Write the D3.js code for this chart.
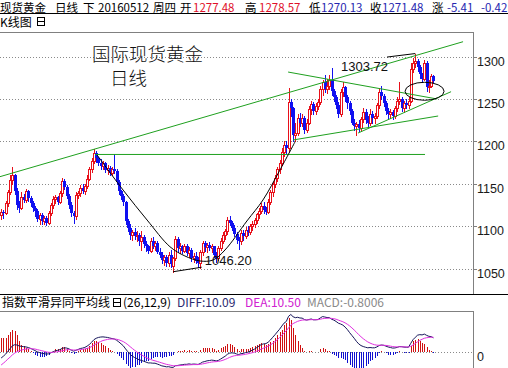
<!DOCTYPE html>
<html><head><meta charset="utf-8">
<script src="https://cdn.jsdelivr.net/npm/d3@7"></script>
<style>
body{margin:0;background:#fff;overflow:hidden}
svg{display:block}
text{font-family:"Liberation Sans",Arial,"Noto Sans CJK SC",sans-serif}
.cjk{font-family:"Noto Sans CJK SC","Liberation Sans",sans-serif}
</style>
</head><body><svg id="c" width="508" height="368"></svg>
<script>
// ---------- data ----------
const opens=[1113,1117,1116,1127,1140,1154,1160,1142,1125,1122,1134,1131,1141,1133,1127,1121,1118,1109,1113,1106,
1110,1104,1116,1125,1132,1134,1129,1139,1153,1146,1136,1125,1115,1112,1137,1139,1145,1142,1147,1156,
1167,1177,1186,1180,1175,1171,1174,1166,1169,1163,1167,1165,1152,1141,1136,1128,1106,1098,1089,1093,
1088,1090,1082,1087,1079,1076,1071,1083,1077,1080,1070,1066,1060,1063,1057,1066,1053,1062,1085,1074,
1076,1071,1077,1068,1072,1062,1065,1059,1056,1069,1080,1075,1078,1074,1076,1066,1062,1074,1083,1090,
1094,1107,1104,1098,1091,1084,1082,1092,1088,1096,1093,1100,1103,1107,1114,1118,1124,1119,1117,1129,
1140,1150,1157,1167,1175,1188,1196,1192,1247,1239,1208,1210,1228,1222,1228,1214,1222,1238,1244,1236,
1242,1247,1262,1270,1262,1266,1273,1259,1252,1243,1232,1258,1264,1252,1245,1236,1222,1218,1220,1216,
1226,1235,1225,1222,1232,1228,1230,1243,1258,1254,1245,1236,1232,1235,1230,1240,1248,1250,1240,1245,
1243,1248,1286,1293,1295,1288,1279,1274,1293,1264,1266,1277.48];
const highs=[1120,1119,1130,1143,1160,1170,1162,1145,1130,1140,1138,1144,1143,1136,1130,1124,1120,1115,1116,1112,
1112,1118,1127,1135,1137,1136,1141,1157,1156,1148,1138,1128,1118,1140,1142,1148,1150,1150,1160,1170,
1180,1191,1189,1182,1179,1177,1176,1172,1171,1170,1185,1167,1154,1143,1138,1130,1109,1102,1096,1098,
1094,1092,1094,1089,1083,1078,1086,1087,1083,1082,1074,1070,1066,1066,1070,1072,1064,1088,1087,1080,
1078,1079,1079,1075,1074,1068,1070,1063,1072,1083,1082,1080,1081,1079,1077,1070,1076,1086,1093,1097,
1111,1112,1106,1101,1093,1087,1095,1096,1099,1100,1103,1106,1110,1116,1121,1127,1128,1123,1132,1143,
1152,1160,1170,1178,1192,1200,1200,1263,1250,1241,1222,1232,1233,1232,1230,1226,1242,1248,1247,1245,
1250,1265,1272,1278,1274,1278,1287,1262,1255,1246,1262,1270,1266,1255,1248,1238,1226,1223,1225,1229,
1240,1238,1230,1238,1236,1233,1245,1263,1265,1256,1248,1240,1238,1237,1242,1252,1270,1252,1248,1250,
1252,1292,1298,1303.72,1297,1290,1281,1296,1295,1272,1280,1278.57];
const lows=[1108,1110,1114,1124,1138,1150,1138,1120,1117,1120,1128,1129,1130,1124,1118,1112,1106,1103,1103,1102,
1101,1102,1113,1122,1127,1126,1127,1136,1144,1133,1122,1112,1104,1108,1133,1136,1139,1138,1145,1154,
1164,1174,1176,1172,1168,1167,1164,1162,1160,1160,1163,1150,1138,1132,1125,1103,1094,1085,1084,1085,
1082,1078,1072,1075,1071,1068,1069,1074,1072,1068,1063,1056,1054,1053,1053,1052,1046.2,1060,1070,1068,
1068,1069,1066,1063,1059,1058,1056,1052,1051,1066,1071,1070,1072,1070,1064,1058,1060,1072,1080,1085,
1091,1101,1095,1088,1080,1073,1079,1084,1086,1089,1091,1096,1099,1104,1110,1115,1116,1114,1115,1126,
1136,1146,1153,1163,1172,1183,1186,1188,1230,1200,1200,1207,1218,1218,1210,1211,1220,1232,1232,1232,
1238,1244,1255,1258,1257,1262,1255,1248,1240,1229,1230,1254,1248,1240,1232,1220,1214,1208,1212,1212,
1223,1222,1218,1219,1222,1222,1228,1240,1250,1242,1232,1228,1228,1226,1228,1236,1244,1236,1235,1240,
1240,1246,1282,1288,1283,1275,1270,1272,1260,1258,1264,1270.13];
const closes=[1117,1116,1127,1140,1154,1160,1142,1125,1122,1134,1131,1141,1133,1127,1121,1118,1109,1113,1106,1110,
1104,1116,1125,1132,1134,1129,1139,1153,1146,1136,1125,1115,1112,1137,1139,1145,1142,1147,1156,1167,
1177,1186,1180,1175,1171,1174,1166,1169,1163,1167,1165,1152,1141,1136,1128,1106,1098,1089,1093,1088,
1090,1082,1087,1079,1076,1071,1083,1077,1080,1070,1066,1060,1063,1057,1066,1055,1062,1085,1074,1076,
1071,1077,1068,1072,1062,1065,1059,1056,1069,1080,1075,1078,1074,1076,1066,1062,1074,1083,1090,1094,
1107,1104,1098,1091,1084,1082,1092,1088,1096,1093,1100,1103,1107,1114,1118,1124,1119,1117,1129,1140,
1150,1157,1167,1175,1188,1196,1192,1247,1239,1208,1210,1228,1222,1228,1214,1222,1238,1244,1236,1242,
1247,1262,1270,1262,1266,1273,1259,1252,1243,1232,1258,1264,1252,1245,1236,1222,1218,1220,1216,1226,
1235,1225,1222,1232,1228,1230,1243,1258,1254,1245,1236,1232,1235,1230,1240,1248,1250,1240,1245,1243,
1248,1286,1293,1295,1288,1279,1274,1293,1264,1266,1277,1271.48];
const diffVals=[-4.3,-3.0,-1.5,0.5,2.5,4.5,5.2,5.0,4.3,4.0,3.8,3.6,3.2,2.6,1.8,1.0,0.1,-0.4,-0.9,-1.2,
-1.5,-1.3,-0.6,0.2,0.9,1.2,1.7,2.6,3.0,2.8,2.2,1.3,0.6,1.2,1.8,2.5,2.8,3.3,4.2,5.4,
7.0,8.8,9.8,10.4,10.7,10.8,10.6,10.4,10.0,9.6,9.3,8.4,7.2,5.8,4.4,2.2,0.2,-1.8,-3.0,-4.0,
-4.7,-5.6,-6.0,-6.6,-7.2,-7.8,-7.8,-8.0,-8.0,-8.6,-9.2,-9.9,-10.2,-10.6,-10.5,-10.9,-11.0,-9.8,-9.6,-9.3,
-9.1,-8.8,-8.8,-8.5,-8.8,-8.6,-8.7,-8.9,-8.2,-7.2,-6.8,-6.3,-6.1,-5.8,-6.0,-6.4,-6.0,-5.0,-4.0,-3.0,
-1.6,-0.8,-0.6,-0.8,-1.4,-1.8,-1.2,-1.0,-0.4,-0.2,0.6,1.3,2.1,3.2,4.3,5.4,5.8,6.0,7.0,8.6,
10.5,12.3,14.3,16.2,18.5,20.6,21.8,25.5,26.8,25.2,24.5,24.8,24.3,24.2,23.2,22.8,23.2,23.6,23.0,23.0,
23.2,24.3,25.3,25.0,24.6,24.6,23.4,22.8,21.8,20.6,20.0,19.2,17.8,16.0,13.8,11.8,9.8,7.6,5.8,4.6,
3.9,3.4,3.0,3.2,3.0,3.0,3.6,4.6,5.0,4.8,4.2,3.6,3.2,2.8,2.9,3.3,3.9,3.8,3.5,3.4,
3.4,6.2,8.8,10.5,12.0,12.4,12.2,12.8,11.9,11.2,11.0,10.09];
const deaVals=[-9.3,-8.0,-6.6,-5.0,-3.6,-2.0,-0.8,0.2,0.9,1.4,1.8,2.1,2.3,2.4,2.3,2.1,1.7,1.3,0.9,0.5,
0.1,-0.2,-0.3,-0.2,0.0,0.2,0.5,0.9,1.3,1.6,1.7,1.6,1.4,1.4,1.5,1.7,1.9,2.2,2.6,3.1,
3.9,4.9,5.9,6.8,7.5,8.2,8.6,9.0,9.2,9.3,9.3,9.1,8.7,8.1,7.4,6.4,5.2,3.8,2.5,1.2,
0.0,-1.1,-2.1,-3.0,-3.9,-4.7,-5.3,-5.9,-6.3,-6.8,-7.3,-7.8,-8.3,-8.8,-9.1,-9.5,-9.8,-9.8,-9.8,-9.7,
-9.6,-9.4,-9.3,-9.2,-9.1,-9.0,-9.0,-9.0,-8.8,-8.5,-8.2,-7.8,-7.5,-7.2,-7.0,-6.9,-6.7,-6.4,-5.9,-5.3,
-4.6,-3.8,-3.2,-2.7,-2.5,-2.3,-2.1,-1.9,-1.6,-1.3,-0.9,-0.5,0.0,0.6,1.3,2.1,2.8,3.5,4.2,5.1,
6.2,7.4,8.8,10.3,11.9,13.6,15.2,17.2,19.1,20.3,21.1,21.9,22.4,22.8,22.9,22.9,23.0,23.1,23.1,23.1,
23.1,23.4,23.8,24.0,24.1,24.2,24.0,23.8,23.4,22.8,22.2,21.6,20.8,19.8,18.6,17.2,15.7,14.1,12.4,10.9,
9.5,8.3,7.2,6.4,5.7,5.2,4.9,4.8,4.8,4.8,4.7,4.5,4.2,3.9,3.7,3.6,3.7,3.7,3.7,3.6,
3.6,4.1,5.0,6.1,7.3,8.3,9.1,9.8,10.2,10.4,10.6,10.50];
const macdVals=[10.0,10.0,10.2,12.0,14.0,16.0,15.0,12.0,8.0,5.2,4.0,3.0,1.8,0.4,-1.0,-2.2,-3.2,-3.4,-3.6,-3.4,
-3.2,-2.2,-0.6,0.8,1.8,2.0,2.4,3.4,3.4,2.4,1.0,-0.6,-1.6,-0.4,0.6,1.6,1.8,2.2,3.2,4.6,
6.2,7.8,7.8,7.2,6.4,5.2,4.0,2.8,1.6,0.6,0.0,-1.4,-3.0,-4.6,-6.0,-8.4,-10.0,-11.2,-11.0,-10.4,
-9.4,-9.0,-7.8,-7.2,-6.6,-6.2,-5.0,-4.2,-3.4,-3.6,-3.8,-4.2,-3.8,-3.6,-2.8,-2.8,-2.4,0.0,0.4,0.8,
1.0,1.2,1.0,1.4,0.6,0.8,0.6,0.2,1.2,2.6,2.8,3.0,2.8,2.8,2.0,1.0,1.4,2.8,3.8,4.6,
6.0,6.0,5.2,3.8,2.2,1.0,1.8,1.8,2.4,2.2,3.0,3.6,4.2,5.2,6.0,6.6,6.0,5.0,5.6,7.0,
8.0,10.0,12.0,14.0,16.0,19.0,21.0,24.0,23.0,17.0,12.0,8.0,5.0,3.0,0.6,-0.2,0.4,1.0,-0.2,-0.2,
0.2,1.8,3.0,2.0,1.0,0.8,-1.2,-2.0,-3.2,-4.4,-4.4,-4.8,-6.0,-7.6,-9.6,-10.8,-11.8,-13.0,-13.2,-12.6,
-11.2,-9.8,-8.4,-6.4,-5.4,-4.4,-2.6,-0.4,0.4,0.0,-1.0,-1.8,-2.0,-2.2,-1.6,-0.6,0.4,0.2,-0.4,-0.4,
-0.4,4.2,7.6,8.8,9.4,8.2,6.2,6.0,3.4,1.6,0.8,-0.8006];
const priceTicks=[1050,1100,1150,1200,1250,1300];
const macdTicks=[0];
// analyst drawings, in (bar index, price) space
const greenLines=[[[-0.5,1158.4],[204.1,1317.7]],[[41.5,1184.6],[187.3,1184.6]],[[126.8,1281.9],[192.6,1250.1]],[[129,1201.7],[193.1,1230.0]],[[157.7,1209.9],[198.8,1258.7]]];
const arcPoints=[[42.4,1184.0],[53.9,1142.6],[64.5,1107.2],[74.6,1075.7],[81.2,1064.8],[87.9,1058.9],[93.6,1060.0],[98.9,1071.8],[108.6,1106.1],[115.7,1130.9],[123.2,1166.3],[129.9,1199.7]];
const lowLine=[[76,1046.2],[88.6,1051.5]];
const lowLabel={i:90,v:1046.2,text:"1046.20"};
const highLabel={i:150.2,v:1303.72,text:"1303.72",hi:183};
const ellipseC={i:187.1,v:1259.2};
const titleParts=[["现货黄金",0,"#000"],["日线",55,"#000"],["下",83,"#000"],["20160512",98,"#000"],["周四",153,"#000"],["开",180,"#000"],["1277.48",193,"#e0102a"],["高",245,"#000"],["1278.57",259,"#e0102a"],["低",309,"#000"],["1270.13",321,"#2626b0"],["收",370,"#000"],["1271.48",382,"#2626b0"],["涨",432,"#000"],["-5.41",447,"#2626b0"],["-0.42",481,"#2626b0"]];
const macdHeader=[["指数平滑异同平均线",2,"#000"],["(26,12,9)",123,"#000"],["DIFF:10.09",177,"#2a2a70"],["DEA:10.50",245,"#d020d0"],["MACD:-0.8006",307,"#8a8a8a"]];

// ---------- scales ----------
const svg=d3.select("#c");
const R=473;
const x=d3.scaleLinear().domain([0,191]).range([1.13,433.4]);
const y=d3.scaleLinear().domain([1050,1300]).range([268.5,56.7]);
const ym=d3.scaleLinear().domain([0,10]).range([352,338]);

const defs=svg.append("defs");
defs.append("clipPath").attr("id","mainClip").append("rect").attr("x",0).attr("y",33).attr("width",R).attr("height",261);
defs.append("clipPath").attr("id","macdClip").append("rect").attr("x",0).attr("y",312).attr("width",R).attr("height",56);

// ---------- frames & headers ----------
const fr=svg.append("g").attr("shape-rendering","crispEdges");
fr.append("line").attr("x1",0).attr("x2",508).attr("y1",13.5).attr("y2",13.5).attr("stroke","#000");
fr.append("line").attr("x1",0).attr("x2",R).attr("y1",32.5).attr("y2",32.5).attr("stroke","#808080");
fr.append("line").attr("x1",R+0.5).attr("x2",R+0.5).attr("y1",32).attr("y2",294).attr("stroke","#808080");
fr.append("line").attr("x1",0).attr("x2",508).attr("y1",294.5).attr("y2",294.5).attr("stroke","#000");
fr.append("line").attr("x1",0).attr("x2",R).attr("y1",311.5).attr("y2",311.5).attr("stroke","#808080");
fr.append("line").attr("x1",R+0.5).attr("x2",R+0.5).attr("y1",311).attr("y2",368).attr("stroke","#808080");

const tt=svg.append("text").attr("y",11.5).attr("font-size",11.5).attr("class","cjk");
titleParts.forEach(p=>tt.append("tspan").attr("x",p[1]).attr("fill",p[2]).text(p[0]));

svg.append("text").attr("x",0).attr("y",27).attr("font-size",12).attr("class","cjk").text("K线图");
function boxIcon(x0,y0){
  const g=svg.append("g").attr("shape-rendering","crispEdges");
  g.append("rect").attr("x",x0+0.5).attr("y",y0+0.5).attr("width",7).attr("height",8).attr("fill","none").attr("stroke","#000");
  g.append("line").attr("x1",x0).attr("x2",x0+8).attr("y1",y0+4.5).attr("y2",y0+4.5).attr("stroke","#000");
}
boxIcon(37,17);

const mh=svg.append("text").attr("y",307).attr("font-size",12).attr("class","cjk");
macdHeader.forEach(p=>mh.append("tspan").attr("x",p[1]).attr("fill",p[2]).text(p[0]));
boxIcon(113,298);

// ---------- main panel ----------
const grid=svg.append("g");
priceTicks.forEach(t=>{
  const yy=Math.round(y(t))+0.5;
  grid.append("line").attr("x1",0).attr("x2",R).attr("y1",yy).attr("y2",yy)
    .attr("stroke","#8a8a8a").attr("stroke-dasharray","1,2");
  grid.append("line").attr("x1",R).attr("x2",R+4).attr("y1",yy).attr("y2",yy).attr("stroke","#808080").attr("shape-rendering","crispEdges");
  grid.append("text").attr("x",477).attr("y",yy+8).attr("font-size",12.5).attr("fill","#1a1a1a").text(t);
});

const main=svg.append("g").attr("clip-path","url(#mainClip)");
const candles=main.append("g").attr("shape-rendering","crispEdges");
closes.forEach((c,i)=>{
  const o=opens[i],h=highs[i],l=lows[i];
  const px=Math.round(x(i));
  const yt=Math.round(y(Math.max(o,c))), yb=Math.round(y(Math.min(o,c)));
  const yh=Math.round(y(h)), yl=Math.round(y(l));
  if(c>=o){
    const col="#e8101a";
    candles.append("line").attr("x1",px+0.5).attr("x2",px+0.5).attr("y1",yh).attr("y2",yt).attr("stroke",col);
    candles.append("line").attr("x1",px+0.5).attr("x2",px+0.5).attr("y1",yb).attr("y2",yl+1).attr("stroke",col);
    candles.append("rect").attr("x",px-0.5).attr("y",yt+0.5).attr("width",2).attr("height",Math.max(0,yb-yt))
      .attr("fill","#fff").attr("stroke",col);
  } else {
    const col="#1010f0";
    candles.append("line").attr("x1",px+0.5).attr("x2",px+0.5).attr("y1",yh).attr("y2",yl+1).attr("stroke",col);
    candles.append("rect").attr("x",px-1).attr("y",yt).attr("width",3).attr("height",Math.max(1,yb-yt)).attr("fill",col);
  }
});

// green trend lines
greenLines.forEach(s=>{
  main.append("line").attr("x1",x(s[0][0])).attr("y1",y(s[0][1])).attr("x2",x(s[1][0])).attr("y2",y(s[1][1]))
    .attr("stroke","#1fa01f").attr("stroke-width",1);
});
// black arc
main.append("path").datum(arcPoints)
  .attr("d",d3.line().x(d=>x(d[0])).y(d=>y(d[1])).curve(d3.curveCatmullRom))
  .attr("fill","none").attr("stroke","#000").attr("stroke-width",1);
main.append("line").attr("x1",x(lowLine[0][0])).attr("y1",y(lowLine[0][1])).attr("x2",x(lowLine[1][0])).attr("y2",y(lowLine[1][1])).attr("stroke","#000");
main.append("text").attr("x",x(lowLabel.i)).attr("y",y(lowLabel.v)-6.5).attr("font-size",13).attr("fill","#111").text(lowLabel.text);
main.append("text").attr("x",x(highLabel.i)).attr("y",y(highLabel.v)+17.5).attr("font-size",13).attr("fill","#111").text(highLabel.text);
main.append("line").attr("x1",x(highLabel.i)+46).attr("y1",y(highLabel.v)+3.5).attr("x2",x(highLabel.hi)).attr("y2",y(highLabel.v)).attr("stroke","#000");
main.append("ellipse").attr("cx",x(ellipseC.i)).attr("cy",y(ellipseC.v)).attr("rx",19.5).attr("ry",9)
  .attr("fill","none").attr("stroke","#000");

// title
main.append("text").attr("x",92).attr("y",61).attr("font-size",18.5).attr("class","cjk").attr("font-weight",300).attr("fill","#111").text("国际现货黄金");
main.append("text").attr("x",110).attr("y",85).attr("font-size",18.5).attr("class","cjk").attr("font-weight",300).attr("fill","#111").text("日线");

// ---------- MACD panel ----------
const mg=svg.append("g").attr("clip-path","url(#macdClip)");
macdTicks.forEach(t=>{
  const yy=Math.round(ym(t))+0.5;
  mg.append("line").attr("x1",0).attr("x2",R).attr("y1",yy).attr("y2",yy).attr("stroke","#8a8a8a").attr("stroke-dasharray","1,2");
  svg.append("text").attr("x",477).attr("y",yy+8).attr("font-size",12.5).attr("fill","#1a1a1a").text(t);
});
const hist=mg.append("g").attr("shape-rendering","crispEdges");
macdVals.forEach((v,i)=>{
  const px=Math.round(x(i))+0.5;
  hist.append("line").attr("x1",px).attr("x2",px).attr("y1",ym(0)).attr("y2",ym(v))
    .attr("stroke",v>=0?"#d01010":"#1010d0");
});
const ln=d3.line().x((d,i)=>x(i)).y(d=>ym(d));
mg.append("path").datum(diffVals).attr("d",ln).attr("fill","none").attr("stroke","#16165a").attr("stroke-width",1);
mg.append("path").datum(deaVals).attr("d",ln).attr("fill","none").attr("stroke","#e030e0").attr("stroke-width",1);
</script>
</body></html>
